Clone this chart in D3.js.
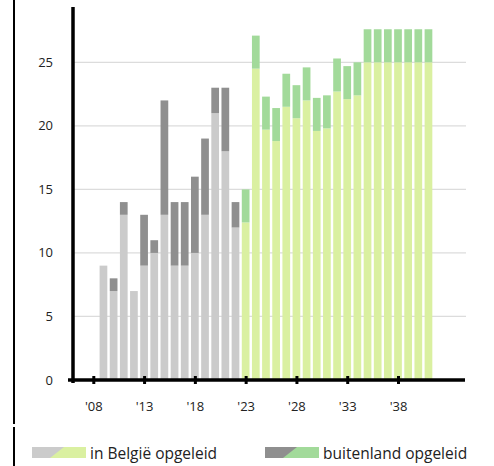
<!DOCTYPE html>
<html>
<head>
<meta charset="utf-8">
<script src="https://cdn.jsdelivr.net/npm/d3@7"></script>
<style>
  body { margin: 0; background: #fff; }
  svg { display: block; font-family: "Open Sans", sans-serif; }
</style>
</head>
<body>
<div id="chart"></div>
<script>
const years = d3.range(2009, 2042);
const belgie = [9, 7, 13, 7, 9, 10, 13, 9, 9, 10, 13, 21, 18, 12,
    12.4, 24.5, 19.7, 18.8, 21.5, 20.6, 22.0, 19.6, 19.8, 22.7, 22.1, 22.4,
    25, 25, 25, 25, 25, 25, 25];
const buitenland = [0, 1, 1, 0, 4, 1, 9, 5, 5, 6, 6, 2, 5, 2,
    2.6, 2.6, 2.6, 2.6, 2.6, 2.6, 2.6, 2.6, 2.6, 2.6, 2.6, 2.6,
    2.6, 2.6, 2.6, 2.6, 2.6, 2.6, 2.6];
const firstProjection = 2023;
const yTicks = [0, 5, 10, 15, 20, 25];
const xTicks = [2008, 2013, 2018, 2023, 2028, 2033, 2038];
const legendLabels = ['in België opgeleid', 'buitenland opgeleid'];

const width = 494;
const height = 466;

const colors = {
    past: ['#cbcbcb', '#8f8f8f'],
    future: ['#daf0a1', '#a2da9a']
};

const svg = d3.select('#chart')
    .append('svg')
    .attr('width', width)
    .attr('height', height);

// stray frame line on the left, as in the original screenshot
svg.append('line').attr('x1', 14).attr('x2', 14).attr('y1', 0).attr('y2', 424)
    .attr('stroke', '#000').attr('stroke-width', 2);
svg.append('line').attr('x1', 14).attr('x2', 14).attr('y1', 427).attr('y2', 466)
    .attr('stroke', '#000').attr('stroke-width', 2);

const xScale = d3.scaleLinear()
    .domain([2008, 2038])
    .range([93.3, 398]);
const step = xScale(1) - xScale(0);
const barW = step * 0.76;

const yScale = d3.scaleLinear()
    .domain([0, 25])
    .range([380, 62.3]);

// gridlines
svg.append('g')
    .selectAll('line')
    .data(yTicks.slice(1))
    .enter()
    .append('line')
    .attr('x1', 73)
    .attr('x2', 466)
    .attr('y1', d => yScale(d))
    .attr('y2', d => yScale(d))
    .attr('stroke', '#dcdcdc')
    .attr('stroke-width', 1.2);

const rows = years.map((yr, i) => ({ year: yr, a: belgie[i], b: buitenland[i] }));

const bars = svg.append('g');
bars.selectAll('rect.a')
    .data(rows)
    .enter()
    .append('rect')
    .attr('class', 'a')
    .attr('x', d => xScale(d.year) - barW / 2)
    .attr('width', barW)
    .attr('y', d => yScale(d.a))
    .attr('height', d => yScale(0) - yScale(d.a))
    .attr('fill', d => d.year < firstProjection ? colors.past[0] : colors.future[0]);

bars.selectAll('rect.b')
    .data(rows.filter(d => d.b > 0))
    .enter()
    .append('rect')
    .attr('class', 'b')
    .attr('x', d => xScale(d.year) - barW / 2)
    .attr('width', barW)
    .attr('y', d => yScale(d.a + d.b))
    .attr('height', d => yScale(d.a) - yScale(d.a + d.b))
    .attr('fill', d => d.year < firstProjection ? colors.past[1] : colors.future[1]);

// y labels
svg.append('g')
    .selectAll('text')
    .data(yTicks)
    .enter()
    .append('text')
    .attr('x', 53)
    .attr('y', d => yScale(d) + 4.5)
    .attr('text-anchor', 'end')
    .attr('font-size', 13)
    .attr('fill', '#222')
    .text(d => d);

// axes lines
svg.append('line').attr('x1', 73).attr('x2', 73).attr('y1', 7).attr('y2', 383)
    .attr('stroke', '#000').attr('stroke-width', 3.5);
svg.append('line').attr('x1', 68).attr('x2', 465).attr('y1', 380).attr('y2', 380)
    .attr('stroke', '#000').attr('stroke-width', 3.5);

const xAxis = svg.append('g')
    .attr('transform', 'translate(0, 380)')
    .call(d3.axisBottom(xScale)
        .tickValues(xTicks)
        .tickSize(4)
        .tickFormat(d => "'" + String(d).slice(2)));
xAxis.select('.domain').remove();
xAxis.selectAll('.tick line')
    .attr('y1', -4)
    .attr('stroke', '#000')
    .attr('stroke-width', 3);
xAxis.selectAll('.tick text')
    .attr('y', 22)
    .attr('font-family', '"Open Sans", sans-serif')
    .attr('font-size', 13)
    .attr('fill', '#222');

// legend
const legend = svg.append('g');
const legendItems = [
    { x: 32, label: legendLabels[0], c: [colors.past[0], colors.future[0]] },
    { x: 265, label: legendLabels[1], c: [colors.past[1], colors.future[1]] }
];
legendItems.forEach(item => {
    const g = legend.append('g').attr('transform', `translate(${item.x}, 447)`);
    g.append('rect').attr('width', 54).attr('height', 11).attr('fill', item.c[1]);
    g.append('path').attr('d', 'M0,0 L32,0 L18,11 L0,11 Z').attr('fill', item.c[0]);
    g.append('text')
        .attr('x', 58)
        .attr('y', 11.5)
        .attr('font-size', 15.5)
        .attr('fill', '#222')
        .text(item.label);
});
</script>
</body>
</html>
